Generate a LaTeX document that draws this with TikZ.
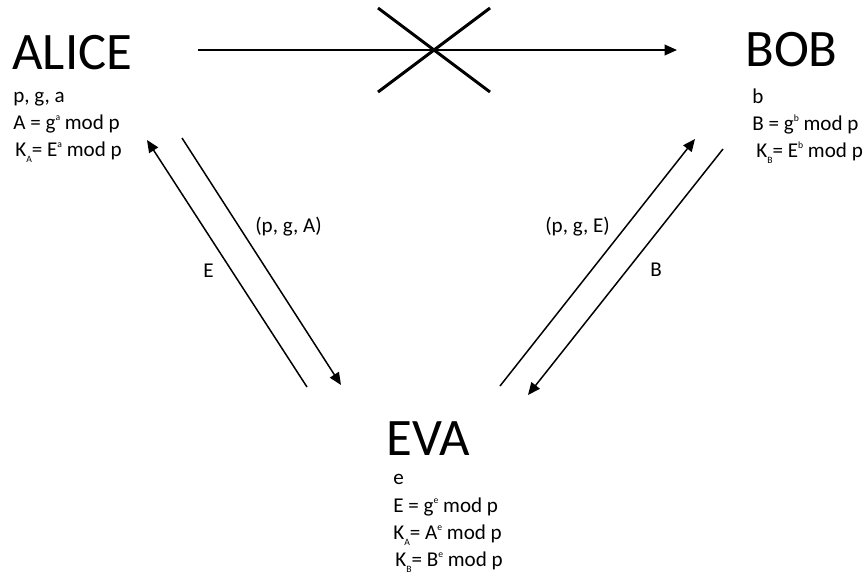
\documentclass[tikz,border=0pt]{standalone}
\usepackage{fontspec}
\setmainfont{Carlito}
\usetikzlibrary{arrows.meta}
\newcommand{\supx}[1]{\raisebox{0.85ex}{\fontsize{5.5}{6}\selectfont #1}}
\newcommand{\subx}[1]{\raisebox{-0.6ex}{\fontsize{5.5}{6}\selectfont #1}}

\begin{document}
\begin{tikzpicture}[
  x=0.02cm, y=-0.02cm,
  party/.style={anchor=base west, inner sep=0pt, font=\fontsize{30}{36}\selectfont},
  info/.style={anchor=base west, inner sep=0pt, font=\fontsize{12}{14}\selectfont},
  msg/.style={anchor=base west, inner sep=0pt, font=\fontsize{12}{14}\selectfont},
  arrow/.style={-{Triangle[length=7pt,width=6pt]}, line width=0.85pt},
  cross/.style={line width=1.7pt}
]
  \useasboundingbox (0,0) rectangle (865,576);

  % parties
  \node[party] (alice) at (12,69) {ALICE};
  \node[party] (bob) at (745,66) {BOB};
  \node[party] (eva) at (386,455) {EVA};

  \node[info] (alice1) at (13,102) {p, g, a};
  \node[info] (alice2) at (13,129) {A = g\supx{a} mod p};
  \node[info] (alice3) at (15,156) {K\subx{A}= E\supx{a} mod p};

  \node[info] (bob1) at (752,103) {b};
  \node[info] (bob2) at (752,130) {B = g\supx{b} mod p};
  \node[info] (bob3) at (756,157) {K\subx{B}= E\supx{b} mod p};

  \node[info] (eva1) at (393,484) {e};
  \node[info] (eva2) at (393,512) {E = g\supx{e} mod p};
  \node[info] (eva3) at (393,539) {K\subx{A}= A\supx{e} mod p};
  \node[info] (eva4) at (395,566) {K\subx{B}= B\supx{e} mod p};

  % connector ends
  \coordinate (topL) at (198,50);
  \coordinate (topR) at (677,50);
  \coordinate (xa) at (378,8);
  \coordinate (xb) at (490,92);
  \coordinate (xc) at (378,92);
  \coordinate (xd) at (490,8);
  \coordinate (evaE) at (307,387);
  \coordinate (aliceE) at (147,140);
  \coordinate (alicePA) at (182,138);
  \coordinate (evaPA) at (341,385);
  \coordinate (evaPE) at (500,386);
  \coordinate (bobPE) at (695,139);
  \coordinate (bobB) at (723,149);
  \coordinate (evaB) at (528,395);

  % direct channel, cut
  \draw[arrow, line width=1.1pt] (topL) -- (topR);
  \draw[cross] (xa) -- (xb);
  \draw[cross] (xc) -- (xd);

  % via eva
  \draw[arrow] (evaE) -- (aliceE);
  \draw[arrow] (alicePA) -- (evaPA);
  \draw[arrow] (evaPE) -- (bobPE);
  \draw[arrow] (bobB) -- (evaB);

  \node[msg] (lblPA) at (255,232) {(p, g, A)};
  \node[msg] (lblE) at (203,277) {E};
  \node[msg] (lblPE) at (545,232) {(p, g, E)};
  \node[msg] (lblB) at (650,276) {B};
\end{tikzpicture}
\end{document}
